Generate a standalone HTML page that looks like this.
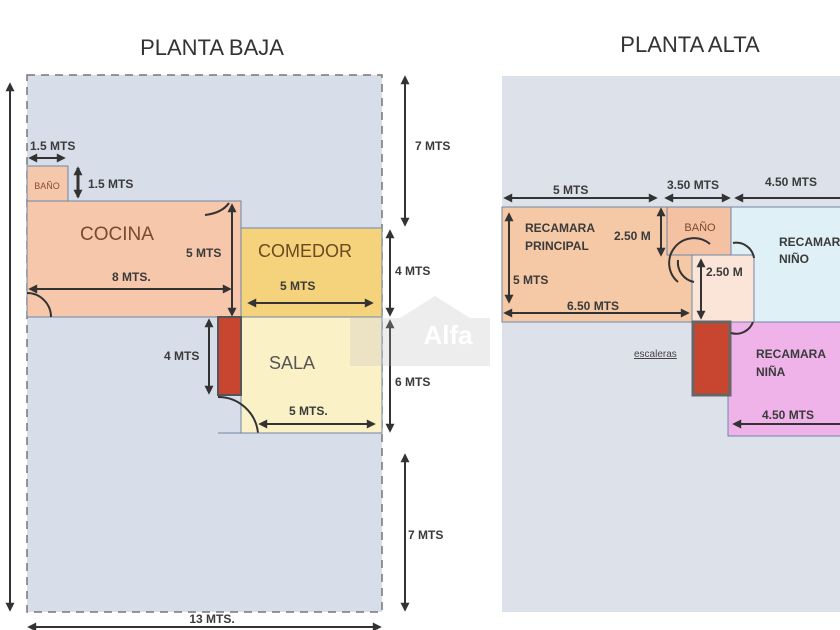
<!DOCTYPE html>
<html><head><meta charset="utf-8"><style>
html,body{margin:0;padding:0;background:#fff;}
svg{display:block;}
text{font-family:"Liberation Sans",sans-serif;}
.b{font-weight:bold;fill:#3a3a3a;font-size:12px;}
</style></head><body>
<svg width="840" height="630" viewBox="0 0 840 630" xmlns="http://www.w3.org/2000/svg">
<defs>
<marker id="a" viewBox="0 0 10 10" refX="8" refY="5" markerWidth="10" markerHeight="9" markerUnits="userSpaceOnUse" orient="auto-start-reverse"><path d="M0,0L10,5L0,10z" fill="#333"/></marker>
</defs>
<rect width="840" height="630" fill="#fff"/>
<text x="212" y="55" font-size="22" text-anchor="middle" fill="#333">PLANTA BAJA</text>
<text x="690" y="52" font-size="22" text-anchor="middle" fill="#333">PLANTA ALTA</text>
<rect x="27" y="75" width="355" height="537" fill="#d8dee9" stroke="#777" stroke-width="1.5" stroke-dasharray="8,6"/>
<rect x="27" y="166" width="41" height="35" fill="#f5c8ab" stroke="#6f86a6"/>
<text x="47" y="189" font-size="9" text-anchor="middle" fill="#8a4a3a">BAÑO</text>
<rect x="27" y="201" width="214" height="116" fill="#f6c7aa" stroke="#6f86a6"/>
<rect x="241" y="228" width="141" height="89" fill="#f5d27c" stroke="#6f86a6"/>
<rect x="241" y="317" width="141" height="116" fill="#fbf1c6" stroke="#6f86a6"/>
<rect x="218" y="317" width="23" height="78" fill="#c8452f" stroke="#555" stroke-width="2"/>
<path d="M27,293 A24,24 0 0 1 51,317" fill="none" stroke="#333" stroke-width="2"/>
<path d="M205,215 Q222,213 229,203" fill="none" stroke="#333" stroke-width="2"/>
<path d="M218,397 A40,40 0 0 1 258,433" fill="none" stroke="#333" stroke-width="2"/>
<line x1="218" y1="433" x2="382" y2="433" stroke="#6f86a6"/>
<text x="117" y="240" font-size="19" text-anchor="middle" fill="#7a4a30">COCINA</text>
<text x="305" y="257" font-size="18" text-anchor="middle" fill="#6a4a20">COMEDOR</text>
<text x="292" y="369" font-size="18" text-anchor="middle" fill="#555">SALA</text>
<text x="30" y="150" class="b">1.5 MTS</text>
<line x1="30" y1="158" x2="64" y2="158" stroke="#333" stroke-width="2" marker-start="url(#a)" marker-end="url(#a)"/>
<line x1="78" y1="168" x2="78" y2="197" stroke="#333" stroke-width="3" marker-start="url(#a)" marker-end="url(#a)"/>
<text x="88" y="188" class="b">1.5 MTS</text>
<text x="186" y="257" class="b">5 MTS</text>
<line x1="232" y1="205" x2="232" y2="315" stroke="#333" stroke-width="2" marker-start="url(#a)" marker-end="url(#a)"/>
<text x="112" y="281" class="b">8 MTS.</text>
<line x1="30" y1="289" x2="230" y2="289" stroke="#333" stroke-width="2" marker-start="url(#a)" marker-end="url(#a)"/>
<text x="280" y="290" class="b">5 MTS</text>
<line x1="249" y1="303" x2="372" y2="303" stroke="#333" stroke-width="2" marker-start="url(#a)" marker-end="url(#a)"/>
<text x="164" y="360" class="b">4 MTS</text>
<line x1="209" y1="320" x2="209" y2="393" stroke="#333" stroke-width="2" marker-start="url(#a)" marker-end="url(#a)"/>
<text x="289" y="415" class="b">5 MTS.</text>
<line x1="260" y1="424" x2="374" y2="424" stroke="#333" stroke-width="2" marker-start="url(#a)" marker-end="url(#a)"/>
<line x1="10" y1="84" x2="10" y2="610" stroke="#333" stroke-width="2" marker-start="url(#a)" marker-end="url(#a)"/>
<text x="212" y="623" class="b" text-anchor="middle">13 MTS.</text>
<line x1="29" y1="627" x2="380" y2="627" stroke="#333" stroke-width="2" marker-start="url(#a)" marker-end="url(#a)"/>
<line x1="405" y1="77" x2="405" y2="225" stroke="#333" stroke-width="2" marker-start="url(#a)" marker-end="url(#a)"/>
<text x="415" y="150" class="b">7 MTS</text>
<line x1="390" y1="231" x2="390" y2="315" stroke="#333" stroke-width="2" marker-start="url(#a)" marker-end="url(#a)"/>
<text x="395" y="275" class="b">4 MTS</text>
<line x1="390" y1="321" x2="390" y2="431" stroke="#333" stroke-width="2" marker-start="url(#a)" marker-end="url(#a)"/>
<text x="395" y="386" class="b">6 MTS</text>
<line x1="405" y1="455" x2="405" y2="610" stroke="#333" stroke-width="2" marker-start="url(#a)" marker-end="url(#a)"/>
<text x="408" y="539" class="b">7 MTS</text>
<g opacity="0.25">
<rect x="350" y="318" width="140" height="48" fill="#bbb"/>
<path d="M400,318 L435,296 L470,318z" fill="#bbb"/>
<text x="448" y="344" font-size="26" font-weight="bold" text-anchor="middle" fill="#fff">Alfa</text>
</g>
<rect x="502" y="76" width="338" height="536" fill="#dde2ea"/>
<rect x="502" y="207" width="190" height="115" fill="#f6c9a6" stroke="#6f86a6"/>
<rect x="667" y="207" width="64" height="48" fill="#f4c2a3" stroke="#6f86a6"/>
<rect x="731" y="207" width="115" height="115" fill="#e0f0f7" stroke="#6f86a6"/>
<rect x="692" y="255" width="62" height="67" fill="#fbe5d8" stroke="#6f86a6"/>
<rect x="728" y="322" width="115" height="114" fill="#efb3ea" stroke="#6f86a6"/>
<rect x="693" y="322" width="37" height="73" fill="#c8452f" stroke="#666" stroke-width="3"/>
<path d="M678,282 A18,18 0 0 1 710,244" fill="none" stroke="#333" stroke-width="2"/>
<path d="M678,260 A20,20 0 0 0 694,282" fill="none" stroke="#333" stroke-width="2"/>
<path d="M733,243 A18,18 0 0 1 754,258" fill="none" stroke="#333" stroke-width="2"/>
<path d="M731,333 A18,18 0 0 0 753,322" fill="none" stroke="#333" stroke-width="2"/>
<text x="525" y="232" class="b" font-size="11">RECAMARA</text>
<text x="525" y="250" class="b" font-size="11">PRINCIPAL</text>
<text x="614" y="240" class="b">2.50 M</text>
<line x1="661" y1="209" x2="661" y2="255" stroke="#333" stroke-width="2" marker-start="url(#a)" marker-end="url(#a)"/>
<text x="700" y="231" font-size="11" text-anchor="middle" fill="#7a4a30">BAÑO</text>
<text x="513" y="284" class="b">5 MTS</text>
<line x1="509" y1="214" x2="509" y2="302" stroke="#333" stroke-width="2" marker-start="url(#a)" marker-end="url(#a)"/>
<text x="567" y="310" class="b">6.50 MTS</text>
<line x1="505" y1="313" x2="688" y2="313" stroke="#333" stroke-width="2" marker-start="url(#a)" marker-end="url(#a)"/>
<line x1="701" y1="260" x2="701" y2="318" stroke="#333" stroke-width="2" marker-start="url(#a)" marker-end="url(#a)"/>
<text x="706" y="276" class="b">2.50 M</text>
<text x="779" y="246" class="b" font-size="11">RECAMARA</text>
<text x="779" y="263" class="b" font-size="11">NIÑO</text>
<text x="756" y="358" class="b" font-size="11">RECAMARA</text>
<text x="756" y="376" class="b" font-size="11">NIÑA</text>
<text x="634" y="357" font-size="10" fill="#444" text-decoration="underline">escaleras</text>
<text x="762" y="419" class="b">4.50 MTS</text>
<line x1="734" y1="424" x2="840" y2="424" stroke="#333" stroke-width="2" marker-start="url(#a)"/>
<text x="553" y="194" class="b">5 MTS</text>
<line x1="505" y1="198" x2="656" y2="198" stroke="#333" stroke-width="2" marker-start="url(#a)" marker-end="url(#a)"/>
<text x="667" y="189" class="b">3.50 MTS</text>
<line x1="666" y1="198" x2="729" y2="198" stroke="#333" stroke-width="2" marker-start="url(#a)" marker-end="url(#a)"/>
<text x="765" y="186" class="b">4.50 MTS</text>
<line x1="736" y1="198" x2="840" y2="198" stroke="#333" stroke-width="2" marker-start="url(#a)"/>
</svg>
</body></html>
